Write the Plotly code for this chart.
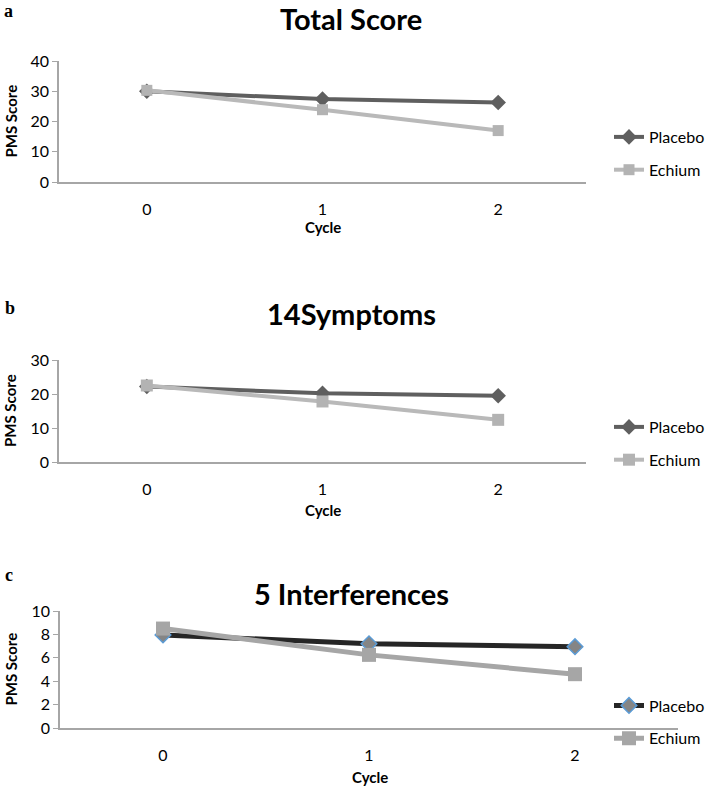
import plotly.graph_objects as go

cycles = [0, 1, 2]
cycle_labels = ["0", "1", "2"]

total_placebo = [30.0, 27.4, 26.3]
total_echium = [30.3, 23.9, 17.0]

sym_placebo = [22.2, 20.2, 19.5]
sym_echium = [22.5, 17.8, 12.4]

int_placebo = [7.95, 7.2, 6.95]
int_echium = [8.5, 6.25, 4.6]

titles = ["Total Score", "14Symptoms", "5 Interferences"]
panel_letters = ["a", "b", "c"]

W, H = 709, 786
FONT = "Lato, Carlito, 'Open Sans', sans-serif"

def py(p):
    return 1 - p / H

def px(p):
    return p / W

fig = go.Figure()

panels = [
    dict(top=61, bottom=182, left=59, right=586, ymax=40, dtick=10,
         placebo=total_placebo, echium=total_echium,
         pcol="#5f5f5f", pmark="#5f5f5f", pline=None, ecol="#b9b9b9", emark="#b3b3b3",
         lw=4, psize=12, esize=11, title_y=14, letter_y=8, leg_y=153.5, cycle_y=227),
    dict(top=360, bottom=462, left=59, right=586, ymax=30, dtick=10,
         placebo=sym_placebo, echium=sym_echium,
         pcol="#5f5f5f", pmark="#5f5f5f", pline=None, ecol="#b9b9b9", emark="#b3b3b3",
         lw=4, psize=12, esize=12, title_y=313, letter_y=308, leg_y=443.5, cycle_y=510),
    dict(top=611, bottom=728, left=60, right=678, ymax=10, dtick=2,
         placebo=int_placebo, echium=int_echium,
         pcol="#262626", pmark="#858585", pline="#5b9bd5", ecol="#a6a6a6", emark="#a6a6a6",
         lw=5, psize=12, esize=14, title_y=593, letter_y=575, leg_y=722, cycle_y=777),
]

for i, p in enumerate(panels, start=1):
    xa = "x" if i == 1 else f"x{i}"
    ya = "y" if i == 1 else f"y{i}"
    leg = "legend" if i == 1 else f"legend{i}"
    pmarker = dict(symbol="diamond", size=p["psize"], color=p["pmark"])
    if p["pline"]:
        pmarker["line"] = dict(color=p["pline"], width=1.5)
    fig.add_trace(go.Scatter(
        x=cycles, y=p["placebo"], mode="lines+markers", name="Placebo",
        line=dict(color=p["pcol"], width=p["lw"]), marker=pmarker,
        xaxis=xa, yaxis=ya, legend=leg, legendgroup=f"p{i}"))
    fig.add_trace(go.Scatter(
        x=cycles, y=p["echium"], mode="lines+markers", name="Echium",
        line=dict(color=p["ecol"], width=p["lw"]),
        marker=dict(symbol="square", size=p["esize"], color=p["emark"]),
        xaxis=xa, yaxis=ya, legend=leg, legendgroup=f"e{i}"))

    xkey = "xaxis" if i == 1 else f"xaxis{i}"
    ykey = "yaxis" if i == 1 else f"yaxis{i}"
    fig.update_layout(**{
        xkey: dict(
            domain=[px(p["left"]), px(p["right"])], range=[-0.5, 2.5],
            anchor=ya, tickmode="array", tickvals=cycles, ticktext=cycle_labels,
            showgrid=False, zeroline=False, showline=True, linecolor="#a6a6a6", linewidth=1.5,
            ticks="outside", ticklen=12, tickcolor="rgba(0,0,0,0)", automargin=False,
            tickfont=dict(family=FONT, size=16, color="#000000"), fixedrange=True),
        ykey: dict(
            domain=[py(p["bottom"]), py(p["top"])], range=[0, p["ymax"]], dtick=p["dtick"],
            anchor=xa, showgrid=False, zeroline=False, showline=True,
            linecolor="#a6a6a6", linewidth=1.5, ticks="outside", ticklen=5,
            tickcolor="#a6a6a6", tickwidth=1, automargin=False,
            tickfont=dict(family=FONT, size=16, color="#000000"), fixedrange=True),
        leg: dict(
            x=px(609), xanchor="left", y=py(p["leg_y"]), yanchor="middle",
            font=dict(family=FONT, size=16, color="#000000"),
            bgcolor="rgba(0,0,0,0)", tracegroupgap=9, itemwidth=30),
    })

    if i == 1:
        fig.add_annotation(text=f"<b>{titles[i-1]}</b>", x=px(351), y=1,
                           xref="paper", yref="paper", showarrow=False, xanchor="center",
                           yanchor="top", borderpad=0,
                           font=dict(family=FONT, size=29, color="#000000"))
        fig.add_annotation(text=f"<b>{panel_letters[i-1]}</b>", x=px(3), y=1,
                           xref="paper", yref="paper", showarrow=False, xanchor="left",
                           yanchor="top", borderpad=0,
                           font=dict(family="Liberation Serif, serif", size=18, color="#000000"))
    else:
        fig.add_annotation(text=f"<b>{titles[i-1]}</b>", x=px(351), y=py(p["title_y"]),
                           xref="paper", yref="paper", showarrow=False, xanchor="center",
                           yanchor="middle", font=dict(family=FONT, size=29, color="#000000"))
        fig.add_annotation(text=f"<b>{panel_letters[i-1]}</b>", x=px(3), y=py(p["letter_y"]),
                           xref="paper", yref="paper", showarrow=False, xanchor="left",
                           yanchor="middle",
                           font=dict(family="Liberation Serif, serif", size=18, color="#000000"))
    fig.add_annotation(text="<b>PMS Score</b>", x=px(10), y=py((p["top"] + p["bottom"]) / 2),
                       xref="paper", yref="paper", showarrow=False, textangle=-90,
                       xanchor="center", yanchor="middle",
                       font=dict(family=FONT, size=15, color="#000000"))
    fig.add_annotation(text="<b>Cycle</b>", x=px(323 if i < 3 else 370), y=py(p["cycle_y"]),
                       xref="paper", yref="paper", showarrow=False, xanchor="center",
                       yanchor="middle", font=dict(family=FONT, size=15, color="#000000"))

fig.update_layout(
    width=W, height=H, margin=dict(l=0, r=0, t=0, b=0, autoexpand=False),
    paper_bgcolor="white", plot_bgcolor="white", showlegend=True,
)

fig.write_html("out.html", config={"displayModeBar": False},
               post_script="document.body.style.margin='0';")
